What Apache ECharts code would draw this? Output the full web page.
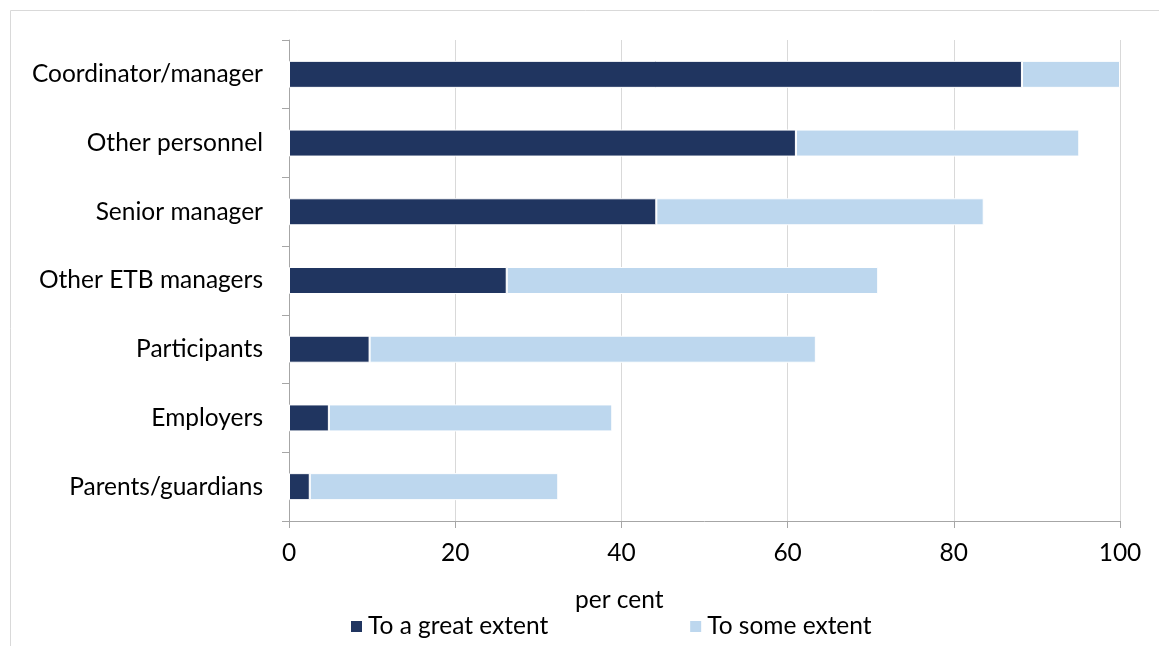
<!DOCTYPE html>
<html><head><meta charset="utf-8">
<script src="https://cdn.jsdelivr.net/npm/echarts@6/dist/echarts.min.js"></script>
<style>html,body{margin:0;padding:0;background:#fff}#c{width:1159px;height:646px}</style>
</head><body><div id="c"></div>
<script>
const categories = ["Parents/guardians","Employers","Participants","Other ETB managers","Senior manager","Other personnel","Coordinator/manager"];
const greatExtent = [2.5, 4.8, 9.7, 26.2, 44.2, 61.0, 88.2];
const someExtent = [29.9, 34.1, 53.7, 44.7, 39.4, 34.1, 11.8];
const seriesNames = ["To a great extent","To some extent"];
const xTicks = [0,20,40,60,80,100];
const FONT = "Lato";
const FS = 24.5;
const chart = echarts.init(document.getElementById('c'));
chart.setOption({
  animation:false,
  textStyle:{fontFamily:FONT},
  grid:{left:289,right:39,top:40,bottom:125,containLabel:false},
  xAxis:{type:'value',min:0,max:100,interval:20,
    axisLine:{show:true,lineStyle:{color:'#a6a6a6'}},
    axisTick:{show:true,length:7,lineStyle:{color:'#a6a6a6'}},
    splitLine:{show:true,lineStyle:{color:'#d9d9d9'}},
    axisLabel:{fontSize:FS,color:'#000',margin:20,fontFamily:FONT,
      formatter:v=>xTicks.includes(v)?String(v):''}},
  yAxis:{type:'category',data:categories,
    axisLine:{show:true,lineStyle:{color:'#a6a6a6'}},
    axisTick:{show:true,length:7,lineStyle:{color:'#a6a6a6'}},
    axisLabel:{fontSize:FS,color:'#000',margin:26,fontFamily:FONT}},
  legend:{bottom:2,left:344,itemGap:140,itemWidth:13,itemHeight:13,icon:'rect',
    textStyle:{fontSize:FS,color:'#000',fontFamily:FONT},data:seriesNames},
  graphic:[
    {type:'rect',shape:{x:10.5,y:10.5,width:1200,height:700},style:{fill:'none',stroke:'#d9d9d9',lineWidth:1},silent:true},
    {type:'text',left:575,top:588,style:{text:'per cent',fontSize:FS,fill:'#000',fontFamily:FONT}}
  ],
  series:[
    {name:seriesNames[0],type:'bar',stack:'a',data:greatExtent,barWidth:27,
      itemStyle:{color:'#203560',borderColor:'#fff',borderWidth:1}},
    {name:seriesNames[1],type:'bar',stack:'a',data:someExtent,barWidth:27,
      itemStyle:{color:'#bdd7ee',borderColor:'#fff',borderWidth:1}}
  ]
});
</script></body></html>
